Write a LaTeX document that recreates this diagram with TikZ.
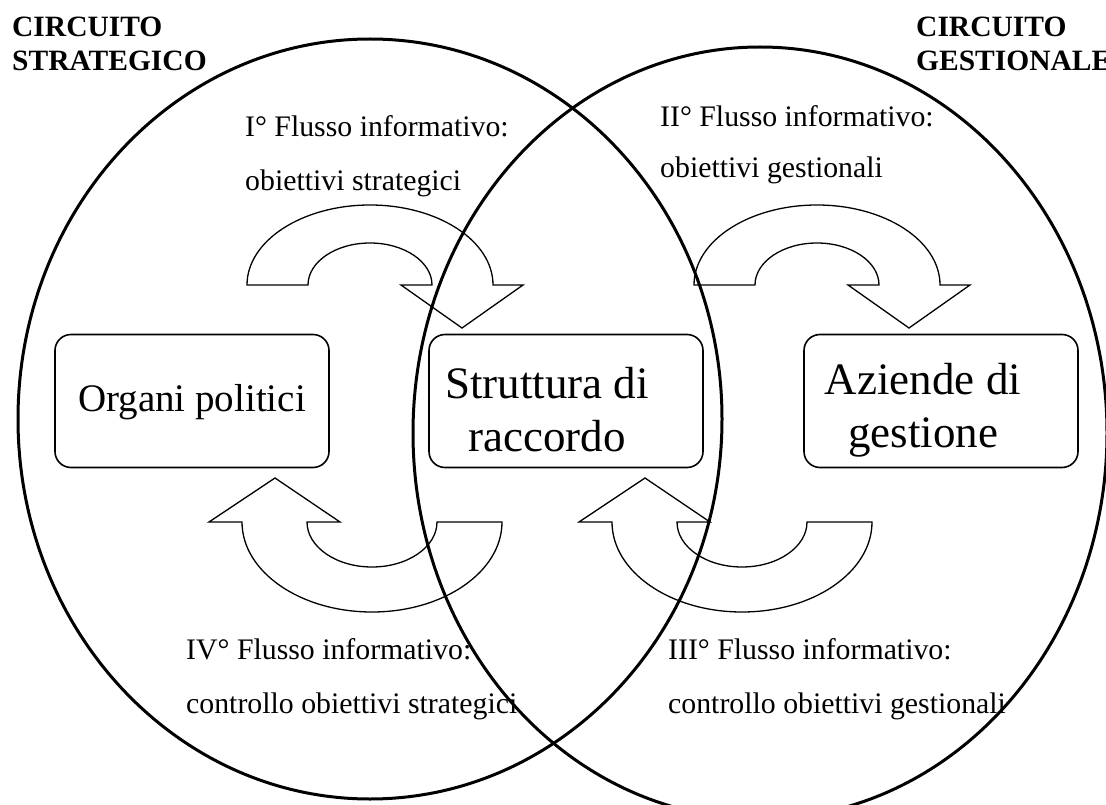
\documentclass[tikz,border=0pt]{standalone}
\usepackage{fontspec}
\setmainfont{Liberation Serif}
\usepackage{xcolor}

\begin{document}
\begin{tikzpicture}[x=1pt,y=-1pt,
  circuito/.style={line width=3pt},
  organo/.style={draw,line width=1.6pt,rounded corners=16pt,minimum width=274pt,minimum height=133pt,inner sep=0pt},
  nome/.style={inner sep=0pt,align=center,font=\fontsize{45}{53}\selectfont},
  flusso/.style={draw,line width=1.3pt,line join=miter},
  titolo/.style={anchor=base west,inner sep=0pt,font=\bfseries\fontsize{29.5}{34}\selectfont},
  etichetta/.style={anchor=base west,inner sep=0pt,font=\fontsize{29.8}{35}\selectfont}]
\useasboundingbox (0,0) rectangle (1106,805);
%\draw[step=50,gray,very thin] (0,0) grid (1106,805); %background grid

% i due circuiti
\draw[circuito] (370,419) ellipse [x radius=352, y radius=380];
\draw[circuito] (760,433) ellipse [x radius=347, y radius=386];

% frecce dei flussi
\draw[flusso] (247,285) arc[start angle=180,end angle=360,x radius=123,y radius=80] -- (523,285) -- (462,328) -- (401,285) -- (432,285) arc[start angle=360,end angle=180,x radius=62,y radius=42] -- cycle;
\draw[flusso] (694,285) arc[start angle=180,end angle=360,x radius=123,y radius=80] -- (970,285) -- (909,328) -- (848,285) -- (879,285) arc[start angle=360,end angle=180,x radius=62,y radius=42] -- cycle;
\draw[flusso] (502,522) arc[start angle=0,end angle=180,x radius=130,y radius=90] -- (209,522) -- (275,478) -- (340,522) -- (307,522) arc[start angle=180,end angle=0,x radius=65,y radius=45] -- cycle;
\draw[flusso] (872,522) arc[start angle=0,end angle=180,x radius=130,y radius=90] -- (579,522) -- (645,478) -- (710,522) -- (677,522) arc[start angle=180,end angle=0,x radius=65,y radius=45] -- cycle;

% organi
\node[organo] (politici) at (192,401) {};
\node[organo] (raccordo) at (566,401) {};
\node[organo] (gestione) at (941,401) {};
\node[nome,font=\fontsize{39}{46}\selectfont] (politiciT) at (192,402) {Organi politici};
\node[nome] (raccordoT) at (547,410) {Struttura di\\raccordo};
\node[nome] (gestioneT) at (923,410) {Aziende di\\gestione};

% titoli
\node[titolo] (strategicoA) at (12,37) {CIRCUITO};
\node[titolo] (strategicoB) at (12,71) {STRATEGICO};
\node[titolo] (gestionaleA) at (916,37) {CIRCUITO};
\node[titolo] (gestionaleB) at (916,71) {GESTIONALE};

% flussi informativi
\node[etichetta] (primoA)   at (245,137) {I° Flusso informativo:};
\node[etichetta] (primoB)   at (245,191) {obiettivi strategici};
\node[etichetta] (secondoA) at (660,127) {II° Flusso informativo:};
\node[etichetta] (secondoB) at (660,178) {obiettivi gestionali};
\node[etichetta] (terzoA)   at (668,659) {III° Flusso informativo:};
\node[etichetta] (terzoB)   at (668,713) {controllo obiettivi gestionali};
\node[etichetta] (quartoA)  at (186,659) {IV° Flusso informativo:};
\node[etichetta] (quartoB)  at (186,713) {controllo obiettivi strategici};

\end{tikzpicture}
\end{document}
